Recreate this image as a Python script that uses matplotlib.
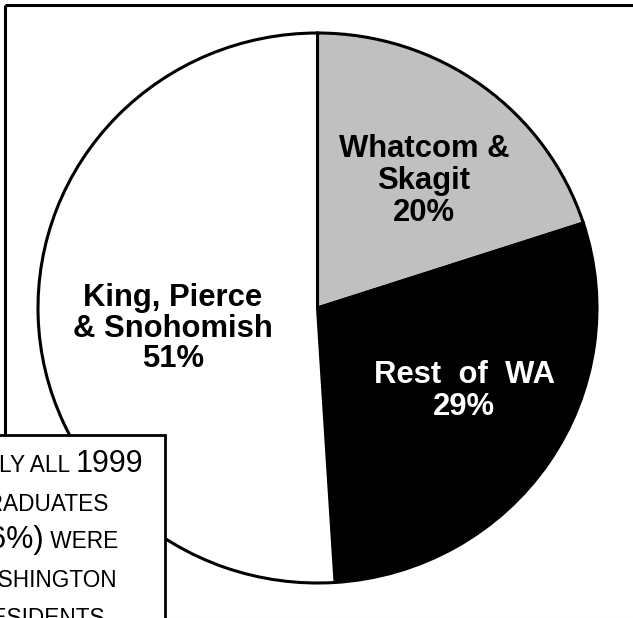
import matplotlib
matplotlib.use("Agg")
import matplotlib.pyplot as plt
from matplotlib.patches import Rectangle

# slices, clockwise from 12 o'clock
regions = ["Whatcom & Skagit", "Rest of WA", "King, Pierce & Snohomish"]
shares = [20, 29, 51]
colors = ["#c0c0c0", "#000000", "#ffffff"]

# label lines per slice (as printed on the chart)
label_lines = [["Whatcom &", "Skagit", "20%"],
               ["Rest  of  WA", "29%"],
               ["King, Pierce", "& Snohomish", "51%"]]
label_colors = ["black", "white", "black"]

# note box, small-caps text: (text, big?) pieces per line
note_lines = [[("NEARLY ALL ", False), ("1999", True)],
              [("GRADUATES", False)],
              [("(96%)", True), (" WERE", False)],
              [("WASHINGTON", False)],
              [("RESIDENTS", False)]]

W, H = 633, 618
fig = plt.figure(figsize=(W / 100, H / 100), dpi=100)
plt.rcParams['font.family'] = ['Liberation Sans', 'DejaVu Sans']

# pie bounding box in pixels (slightly wider than tall)
x0, x1, y0, y1 = 38, 597, 33, 583
m = 1.03
cx, cy = (x0 + x1) / 2, (y0 + y1) / 2
rx, ry = (x1 - x0) / 2 * m, (y1 - y0) / 2 * m
axp = fig.add_axes([(cx - rx) / W, 1 - (cy + ry) / H, 2 * rx / W, 2 * ry / H])
wedges, _ = axp.pie(shares, colors=colors, startangle=90, counterclock=False,
                    wedgeprops=dict(edgecolor="black", linewidth=2.2))
axp.set_aspect("auto")
axp.set_xlim(-m, m)
axp.set_ylim(-m, m)
axp.axis("off")

# overlay in pixel coordinates
ax = fig.add_axes([0, 0, 1, 1], zorder=5)
ax.set_xlim(0, W)
ax.set_ylim(H, 0)
ax.axis("off")

# outer frame (top and left visible)
ax.plot([4.5, W], [4.5, 4.5], color="black", lw=2.2, solid_capstyle="butt")
ax.plot([4.5, 4.5], [4.5, H], color="black", lw=2.2, solid_capstyle="butt")
ax.plot([160, W], [617.5, 617.5], color="#e6e6e6", lw=0.8)

# slice labels
label_x = [424, 464, 173]
label_base = [[157, 189, 221], [383, 415], [306, 337, 367]]
for lines, lx, bases, c in zip(label_lines, label_x, label_base, label_colors):
    for s, by in zip(lines, bases):
        ax.text(lx, by, s, ha="center", va="baseline", fontsize=22.3,
                fontweight="bold", color=c)

# note box
ax.add_patch(Rectangle((-120, 434.5), 284.5, 300, facecolor="white",
                       edgecolor="black", lw=2.0, zorder=6))
renderer = fig.canvas.get_renderer()
note_cx = 40
note_base = [472, 511, 548, 587, 625]
for pieces, by in zip(note_lines, note_base):
    texts = []
    x = 0
    for s, big in pieces:
        t = ax.text(x, by, s, ha="left", va="baseline",
                    fontsize=22 if big else 16.3, zorder=7)
        bb = t.get_window_extent(renderer=renderer)
        texts.append((t, x))
        x += bb.width
    shift = note_cx - x / 2
    for t, px in texts:
        t.set_x(px + shift)

fig.savefig("out.png", dpi=100)
